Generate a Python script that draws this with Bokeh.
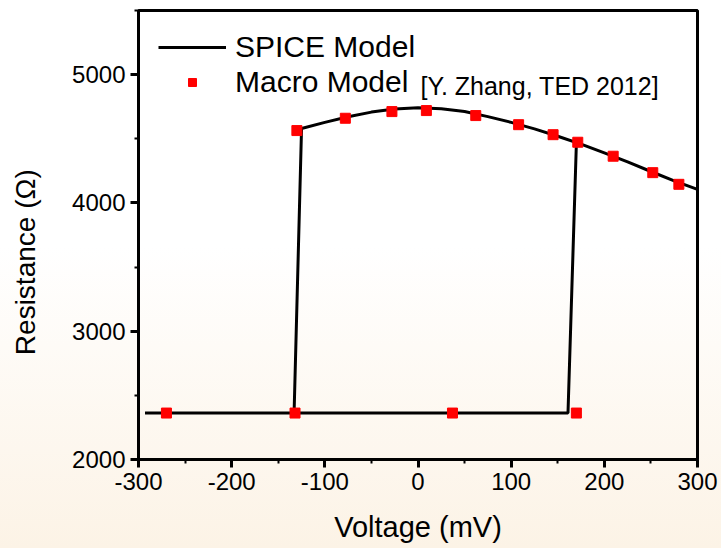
from bokeh.plotting import figure
from bokeh.models import (ColumnDataSource, Legend, LegendItem, Label,
                          SingleIntervalTicker, Range1d, PrintfTickFormatter)
from bokeh.embed import file_html
from bokeh.resources import INLINE

# ---- data ----
# SPICE model: low-resistance branch and switching points
low_r = 2362
low_start_v = -293
switch_up_v = [161, 170]
switch_up_r = [low_r, 4465]
# high-resistance branch (ascending voltage)
high_v = [-125, -100, -75, -50, -25, 0, 25, 50, 75, 100, 125, 150, 175, 200, 225, 250, 275, 300]
high_r = [4580, 4628, 4672, 4708, 4732, 4742, 4735, 4712, 4673, 4628, 4577, 4520, 4458, 4390, 4320, 4245, 4172, 4105]
switch_down_v = -133

# Macro model points
macro_v = [-270, -132, 37, 170, -130, -78, -28, 9, 62, 108, 145, 171.5, 209.5, 252, 280]
macro_r = [2362, 2362, 2362, 2362, 4564, 4660, 4712, 4720, 4681, 4610, 4532, 4473, 4364, 4236, 4145]

x_ticks_interval = 100
y_ticks_interval = 1000

# ---- build SPICE path: low sweep up, jump, high forward, high back, drop, low back ----
fwd = [(v, r) for v, r in zip(high_v, high_r) if v > switch_up_v[1]]
back = list(reversed(list(zip(high_v, high_r))))
path = [(low_start_v, low_r), (switch_up_v[0], switch_up_r[0]), (switch_up_v[1], switch_up_r[1])]
path += fwd + back + [(switch_down_v, low_r), (low_start_v, low_r)]
spice_src = ColumnDataSource(dict(v=[p_[0] for p_ in path], r=[p_[1] for p_ in path]))
macro_src = ColumnDataSource(dict(v=macro_v, r=macro_r))

FONT = "Liberation Sans"

p = figure(width=721, height=548, output_backend="svg", toolbar_location=None,
           x_range=Range1d(-300, 300), y_range=Range1d(2000, 5500))
p.min_border_left = 138
p.min_border_right = 24
p.min_border_top = 10
p.min_border_bottom = 89
p.background_fill_alpha = 0
p.border_fill_alpha = 0
p.styles = {"background": "linear-gradient(to bottom, #ffffff 0%, #ffffff 45%, #fcf3e6 100%)"}
p.outline_line_color = "black"
p.outline_line_width = 3
p.xgrid.visible = False
p.ygrid.visible = False

line_r = p.line("v", "r", source=spice_src, line_color="black", line_width=3)
pts_r = p.scatter("v", "r", source=macro_src, marker="square", size=10,
                  fill_color="#ff0000", line_color="#ff0000")

p.xaxis.ticker = SingleIntervalTicker(interval=x_ticks_interval, num_minor_ticks=2)
p.yaxis.ticker = SingleIntervalTicker(interval=y_ticks_interval, num_minor_ticks=2)
p.xaxis.formatter = PrintfTickFormatter(format="%d")
p.yaxis.formatter = PrintfTickFormatter(format="%d")
p.xaxis.axis_label = "Voltage (mV)"
# trailing no-break spaces shift the centred title slightly downward, as in the reference
p.yaxis.axis_label = "Resistance (\u03a9)" + "\u00a0" * 7
for ax in (p.xaxis, p.yaxis):
    ax.axis_line_width = 3
    ax.axis_line_color = "black"
    ax.major_tick_line_width = 3
    ax.minor_tick_line_width = 2
    ax.major_tick_out = 8
    ax.major_tick_in = 0
    ax.minor_tick_out = 4
    ax.minor_tick_in = 0
    ax.major_label_text_font = FONT
    ax.major_label_text_font_size = "24px"
    ax.major_label_text_color = "black"
    ax.axis_label_text_font = FONT
    ax.axis_label_text_font_size = "29px"
    ax.axis_label_text_font_style = "normal"
    ax.axis_label_text_color = "black"
p.yaxis.axis_label_text_font_size = "28px"
p.xaxis.major_label_standoff = 5
p.yaxis.major_label_standoff = 5
p.xaxis.axis_label_standoff = 18
p.yaxis.axis_label_standoff = 28

legend = Legend(items=[LegendItem(label="SPICE Model", renderers=[line_r]),
                       LegendItem(label="Macro Model", renderers=[pts_r])],
                location="top_left")
legend.label_text_font = FONT
legend.label_text_font_size = "30px"
legend.label_text_color = "black"
legend.background_fill_alpha = 0
legend.border_line_alpha = 0
legend.glyph_width = 68
legend.label_standoff = 9
legend.margin = 0
legend.padding = 20
legend.spacing = 1
p.add_layout(legend)

cite = Label(x=282, y=374, x_units="screen", y_units="screen",
             text="[Y. Zhang, TED 2012]", text_font=FONT, text_font_size="25px",
             text_color="black", text_baseline="alphabetic")
p.add_layout(cite)

open("out.html", "w").write(file_html(p, INLINE))
